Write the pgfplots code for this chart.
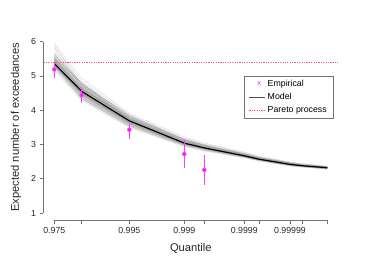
\documentclass[border=0pt]{standalone}
\usepackage{fontspec}
\setmainfont{Liberation Sans}
\usepackage{pgfplots}
\pgfplotsset{compat=1.18}
\definecolor{axgray}{gray}{0.45}
\definecolor{paretocol}{RGB}{245,85,120}
\definecolor{empcol}{RGB}{255,0,255}
\definecolor{barcol}{RGB}{255,60,255}
\begin{document}
\begin{tikzpicture}
\begin{axis}[
  scale only axis, width=294.8bp, height=185.1bp,
  xmin=43.4, xmax=338.2, ymin=0.8, ymax=6.2,
  clip=false,
  axis line style={draw=none},
  tick align=outside, tick pos=left,
  major tick length=3.8bp,
  tick style={axgray, line width=0.6pt},
  xtick={54.3,81.7,129.3,184.3,204.3,244.3,259,290,302.3,327.3},
  xticklabels={0.975,,0.995,0.999,,0.9999,,0.99999,,},
  ytick={1,2,3,4,5,6},
  /pgf/number format/assume math mode=true,
  ticklabel style={font=\fontsize{8.8}{10}\selectfont, text=black!85},
  label style={font=\fontsize{11.2}{13}\selectfont, text=black!85},
  xlabel={Quantile}, ylabel={Expected number of exceedances},
  xlabel style={at={(axis description cs:0.5,-0.152)}, anchor=center},
  ylabel style={at={(axis description cs:-0.093,0.5)}, anchor=center},
  legend style={at={(axis description cs:0.681,0.779)}, anchor=north west,
    draw=axgray, line width=0.6pt, font=\fontsize{8.8}{10}\selectfont,
    inner xsep=4.5bp, inner ysep=2.5bp, row sep=1.3bp},
  legend cell align=left,
]
\addlegendimage{legend image code/.code={\node[text=empcol, font=\fontsize{7}{8}\selectfont, inner sep=0pt] at (8bp,0.5bp) {x};}}
\addlegendentry{Empirical}
\addlegendimage{legend image code/.code={\draw[black!70, line width=0.8pt] (0bp,0bp) -- (16bp,0bp);}}
\addlegendentry{Model}
\addlegendimage{legend image code/.code={\draw[paretocol, line width=0.6pt, dash pattern=on 1.2pt off 1.2pt] (0bp,0bp) -- (16bp,0bp);}}
\addlegendentry{Pareto process}

% dense band
\addplot[forget plot, draw=none, fill=gray, fill opacity=0.35] coordinates {
 (54.3,5.66) (81.7,4.80) (129.3,3.85) (184.3,3.17) (204.3,3.00) (244.3,2.74) (259,2.63) (290,2.47) (302.3,2.42) (327.3,2.36)
 (327.3,2.28) (302.3,2.34) (290,2.38) (259,2.53) (244.3,2.62) (204.3,2.83) (184.3,2.96) (129.3,3.52) (81.7,4.32) (54.3,5.25)
} -- cycle;
\addplot[forget plot, draw=none, fill=gray, fill opacity=0.4] coordinates {
 (54.3,5.52) (81.7,4.66) (129.3,3.77) (184.3,3.10) (204.3,2.95) (244.3,2.71) (259,2.60) (290,2.45) (302.3,2.40) (327.3,2.34)
 (327.3,2.30) (302.3,2.36) (290,2.40) (259,2.55) (244.3,2.64) (204.3,2.86) (184.3,2.99) (129.3,3.60) (81.7,4.44) (54.3,5.30)
} -- cycle;

% simulated lines
\pgfplotsset{simline/.style={forget plot, gray, opacity=0.3, line width=0.45pt}}
\addplot[simline] coordinates {(54.3,5.95) (81.7,4.93) (129.3,3.91) (184.3,3.22) (204.3,3.04) (244.3,2.78) (259,2.66) (290,2.49) (302.3,2.44) (327.3,2.37)};
\addplot[simline] coordinates {(54.3,5.83) (81.7,4.85) (129.3,3.87) (184.3,3.18) (204.3,3.01) (244.3,2.76) (259,2.64) (290,2.48) (302.3,2.43) (327.3,2.36)};
\addplot[simline] coordinates {(54.3,5.71) (81.7,4.78) (129.3,3.82) (184.3,3.15) (204.3,2.98) (244.3,2.74) (259,2.63) (290,2.47) (302.3,2.42) (327.3,2.35)};
\addplot[simline] coordinates {(54.3,5.63) (81.7,4.72) (129.3,3.79) (184.3,3.12) (204.3,2.96) (244.3,2.72) (259,2.61) (290,2.46) (302.3,2.41) (327.3,2.34)};
\addplot[simline] coordinates {(54.3,5.54) (81.7,4.66) (129.3,3.76) (184.3,3.09) (204.3,2.94) (244.3,2.70) (259,2.60) (290,2.45) (302.3,2.40) (327.3,2.34)};
\addplot[simline] coordinates {(54.3,5.45) (81.7,4.61) (129.3,3.72) (184.3,3.07) (204.3,2.92) (244.3,2.69) (259,2.58) (290,2.43) (302.3,2.39) (327.3,2.33)};
\addplot[simline] coordinates {(54.3,5.33) (81.7,4.50) (129.3,3.66) (184.3,3.02) (204.3,2.88) (244.3,2.66) (259,2.56) (290,2.41) (302.3,2.37) (327.3,2.31)};
\addplot[simline] coordinates {(54.3,5.30) (81.7,4.46) (129.3,3.62) (184.3,3.01) (204.3,2.87) (244.3,2.65) (259,2.55) (290,2.40) (302.3,2.37) (327.3,2.31)};
\addplot[simline] coordinates {(54.3,5.26) (81.7,4.40) (129.3,3.58) (184.3,2.99) (204.3,2.85) (244.3,2.64) (259,2.54) (290,2.39) (302.3,2.36) (327.3,2.30)};
\addplot[simline] coordinates {(54.3,5.21) (81.7,4.34) (129.3,3.54) (184.3,2.96) (204.3,2.83) (244.3,2.62) (259,2.53) (290,2.38) (302.3,2.35) (327.3,2.29)};
\addplot[simline] coordinates {(54.3,5.17) (81.7,4.28) (129.3,3.49) (184.3,2.94) (204.3,2.81) (244.3,2.61) (259,2.52) (290,2.37) (302.3,2.34) (327.3,2.28)};
\addplot[simline] coordinates {(54.3,5.80) (81.7,4.70) (129.3,3.75) (184.3,3.10) (204.3,2.93) (244.3,2.70) (259,2.59) (290,2.44) (302.3,2.39) (327.3,2.33)};
\addplot[simline] coordinates {(54.3,5.28) (81.7,4.62) (129.3,3.80) (184.3,3.14) (204.3,2.97) (244.3,2.73) (259,2.62) (290,2.46) (302.3,2.41) (327.3,2.35)};
\addplot[simline] coordinates {(54.3,5.50) (81.7,4.80) (129.3,3.70) (184.3,3.02) (204.3,2.90) (244.3,2.68) (259,2.57) (290,2.42) (302.3,2.38) (327.3,2.32)};
\addplot[simline] coordinates {(54.3,5.90) (81.7,4.75) (129.3,3.86) (184.3,3.13) (204.3,2.99) (244.3,2.72) (259,2.61) (290,2.45) (302.3,2.40) (327.3,2.33)};

% model
\addplot[forget plot, black, line width=1.2pt] coordinates {(54.3,5.36) (81.7,4.55) (129.3,3.69) (184.3,3.04) (204.3,2.90) (244.3,2.67) (259,2.57) (290,2.42) (302.3,2.38) (327.3,2.32)};

% Pareto process
\addplot[forget plot, paretocol, line width=0.6pt, dash pattern=on 1.2pt off 1.2pt] coordinates {(43.4,5.41) (338.2,5.41)};

% empirical with error bars
\addplot[forget plot, barcol, only marks, mark=none,
  error bars/.cd, y dir=both, y explicit, error mark=none,
  error bar style={barcol, line width=0.75pt}] coordinates {
  (54.3,5.19) += (0,0.22) -= (0,0.25)
  (81.7,4.44) += (0,0.24) -= (0,0.22)
  (129.3,3.43) += (0,0.18) -= (0,0.28)
  (184.3,2.72) += (0,0.42) -= (0,0.41)
  (204.3,2.26) += (0,0.43) -= (0,0.44)
};
\addplot[forget plot, empcol, only marks, mark=x, mark size=1.4bp, mark options={line width=0.45pt}] coordinates {
  (54.3,5.19) (81.7,4.44) (129.3,3.43) (184.3,2.72) (204.3,2.26)
};

% axis lines (R style)
\draw[axgray, line width=0.6pt] (axis cs:54.3,0.8) -- (axis cs:327.3,0.8);
\draw[axgray, line width=0.6pt] (axis cs:43.4,1) -- (axis cs:43.4,6);
\end{axis}
\path (current axis.south west) ++(-43.4bp,-44.1bp) rectangle ([shift={(35.8bp,34.8bp)}]current axis.north east);
\end{tikzpicture}
\end{document}
